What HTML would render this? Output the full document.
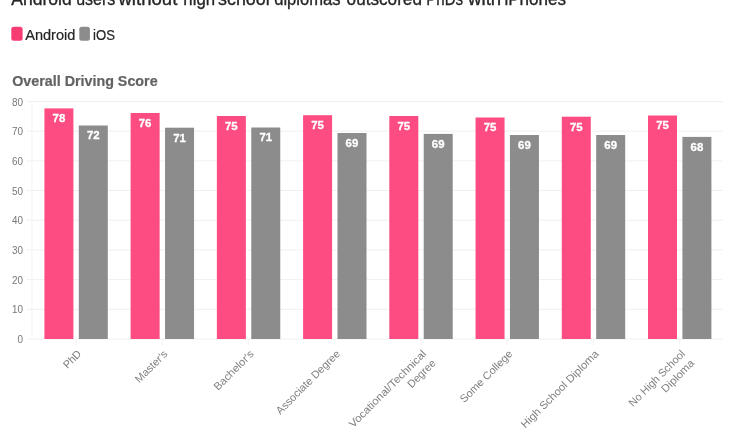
<!DOCTYPE html>
<html lang="en"><head><meta charset="utf-8"><title>Overall Driving Score</title>
<style>html,body{margin:0;padding:0;background:#fff;}body{width:750px;height:430px;overflow:hidden;}svg{display:block;will-change:transform;}text{font-family:"Liberation Sans",sans-serif;}</style></head><body>
<svg width="750" height="430" viewBox="0 0 750 430">
<rect width="750" height="430" fill="#fff"/>
<text x="11.19" y="5.4" font-size="18.4" fill="#262626" stroke="#262626" stroke-width="0.35" textLength="60.57" lengthAdjust="spacingAndGlyphs">Android</text>
<text x="76.15" y="5.4" font-size="18.4" fill="#262626" stroke="#262626" stroke-width="0.35" textLength="39.07" lengthAdjust="spacingAndGlyphs">users</text>
<text x="118.42" y="5.4" font-size="18.4" fill="#262626" stroke="#262626" stroke-width="0.35" textLength="58.91" lengthAdjust="spacingAndGlyphs">without</text>
<text x="183.36" y="5.4" font-size="18.4" fill="#262626" stroke="#262626" stroke-width="0.35" textLength="31.71" lengthAdjust="spacingAndGlyphs">high</text>
<text x="218.06" y="5.4" font-size="18.4" fill="#262626" stroke="#262626" stroke-width="0.35" textLength="51.68" lengthAdjust="spacingAndGlyphs">school</text>
<text x="274.20" y="5.4" font-size="18.4" fill="#262626" stroke="#262626" stroke-width="0.35" textLength="66.32" lengthAdjust="spacingAndGlyphs">diplomas</text>
<text x="346.62" y="5.4" font-size="18.4" fill="#262626" stroke="#262626" stroke-width="0.35" textLength="75.31" lengthAdjust="spacingAndGlyphs">outscored</text>
<text x="426.25" y="5.4" font-size="18.4" fill="#262626" stroke="#262626" stroke-width="0.35" textLength="36.82" lengthAdjust="spacingAndGlyphs">PhDs</text>
<text x="468.13" y="5.4" font-size="18.4" fill="#262626" stroke="#262626" stroke-width="0.35" textLength="33.06" lengthAdjust="spacingAndGlyphs">with</text>
<text x="504.45" y="5.4" font-size="18.4" fill="#262626" stroke="#262626" stroke-width="0.35" textLength="61.62" lengthAdjust="spacingAndGlyphs">iPhones</text>
<rect x="11.3" y="26.8" width="11.3" height="14" rx="2.5" fill="#f73b73"/>
<text x="25.2" y="39.8" font-size="14.2" fill="#262626" stroke="#262626" stroke-width="0.2" textLength="50.2" lengthAdjust="spacingAndGlyphs">Android</text>
<rect x="79.3" y="26.8" width="10.6" height="14" rx="2.5" fill="#8c8c8c"/>
<text x="93.1" y="39.8" font-size="14.2" fill="#262626" stroke="#262626" stroke-width="0.2" textLength="21.9" lengthAdjust="spacingAndGlyphs">iOS</text>
<text x="12.2" y="86.1" font-size="13.8" font-weight="bold" fill="#636363" stroke="#636363" stroke-width="0.2" textLength="145.4" lengthAdjust="spacingAndGlyphs">Overall Driving Score</text>
<line x1="27" x2="722.5" y1="339.00" y2="339.00" stroke="#f0f0f0" stroke-width="1"/>
<text x="17.40" y="343.10" font-size="10.4" fill="#777" textLength="5.5" lengthAdjust="spacingAndGlyphs">0</text>
<line x1="27" x2="722.5" y1="309.31" y2="309.31" stroke="#f0f0f0" stroke-width="1"/>
<text x="11.90" y="313.41" font-size="10.4" fill="#777" textLength="11.0" lengthAdjust="spacingAndGlyphs">10</text>
<line x1="27" x2="722.5" y1="279.62" y2="279.62" stroke="#f0f0f0" stroke-width="1"/>
<text x="11.90" y="283.72" font-size="10.4" fill="#777" textLength="11.0" lengthAdjust="spacingAndGlyphs">20</text>
<line x1="27" x2="722.5" y1="249.93" y2="249.93" stroke="#f0f0f0" stroke-width="1"/>
<text x="11.90" y="254.03" font-size="10.4" fill="#777" textLength="11.0" lengthAdjust="spacingAndGlyphs">30</text>
<line x1="27" x2="722.5" y1="220.24" y2="220.24" stroke="#f0f0f0" stroke-width="1"/>
<text x="11.90" y="224.34" font-size="10.4" fill="#777" textLength="11.0" lengthAdjust="spacingAndGlyphs">40</text>
<line x1="27" x2="722.5" y1="190.55" y2="190.55" stroke="#f0f0f0" stroke-width="1"/>
<text x="11.90" y="194.65" font-size="10.4" fill="#777" textLength="11.0" lengthAdjust="spacingAndGlyphs">50</text>
<line x1="27" x2="722.5" y1="160.86" y2="160.86" stroke="#f0f0f0" stroke-width="1"/>
<text x="11.90" y="164.96" font-size="10.4" fill="#777" textLength="11.0" lengthAdjust="spacingAndGlyphs">60</text>
<line x1="27" x2="722.5" y1="131.17" y2="131.17" stroke="#f0f0f0" stroke-width="1"/>
<text x="11.90" y="135.27" font-size="10.4" fill="#777" textLength="11.0" lengthAdjust="spacingAndGlyphs">70</text>
<line x1="27" x2="722.5" y1="101.48" y2="101.48" stroke="#f0f0f0" stroke-width="1"/>
<text x="11.90" y="105.58" font-size="10.4" fill="#777" textLength="11.0" lengthAdjust="spacingAndGlyphs">80</text>
<line x1="32" x2="32" y1="101" y2="339.0" stroke="#f3f3f3" stroke-width="1"/>
<rect x="44.40" y="108.4" width="29.0" height="230.60" fill="#fd4c81"/>
<rect x="78.80" y="125.5" width="29.0" height="213.50" fill="#8c8c8c"/>
<text x="58.90" y="122.20" font-size="11" font-weight="bold" fill="#fff" stroke="#fff" stroke-width="0.3" text-anchor="middle" textLength="12.7" lengthAdjust="spacingAndGlyphs">78</text>
<text x="93.30" y="139.30" font-size="11" font-weight="bold" fill="#fff" stroke="#fff" stroke-width="0.3" text-anchor="middle" textLength="12.7" lengthAdjust="spacingAndGlyphs">72</text>
<line x1="76.10" x2="76.10" y1="339.0" y2="345.0" stroke="#f3f3f3" stroke-width="1"/>
<text transform="translate(82.00,354.50) rotate(-45)" x="-20.6" y="0.0" font-size="10.8" fill="#808080" textLength="20.6" lengthAdjust="spacingAndGlyphs">PhD</text>
<rect x="130.63" y="113.0" width="29.0" height="226.00" fill="#fd4c81"/>
<rect x="165.03" y="127.7" width="29.0" height="211.30" fill="#8c8c8c"/>
<text x="145.13" y="126.80" font-size="11" font-weight="bold" fill="#fff" stroke="#fff" stroke-width="0.3" text-anchor="middle" textLength="12.7" lengthAdjust="spacingAndGlyphs">76</text>
<text x="179.53" y="141.50" font-size="11" font-weight="bold" fill="#fff" stroke="#fff" stroke-width="0.3" text-anchor="middle" textLength="12.7" lengthAdjust="spacingAndGlyphs">71</text>
<line x1="162.33" x2="162.33" y1="339.0" y2="345.0" stroke="#f3f3f3" stroke-width="1"/>
<text transform="translate(168.23,354.50) rotate(-45)" x="-41.0" y="0.0" font-size="10.8" fill="#808080" textLength="41.0" lengthAdjust="spacingAndGlyphs">Master's</text>
<rect x="216.86" y="116.0" width="29.0" height="223.00" fill="#fd4c81"/>
<rect x="251.26" y="127.5" width="29.0" height="211.50" fill="#8c8c8c"/>
<text x="231.36" y="129.80" font-size="11" font-weight="bold" fill="#fff" stroke="#fff" stroke-width="0.3" text-anchor="middle" textLength="12.7" lengthAdjust="spacingAndGlyphs">75</text>
<text x="265.76" y="141.30" font-size="11" font-weight="bold" fill="#fff" stroke="#fff" stroke-width="0.3" text-anchor="middle" textLength="12.7" lengthAdjust="spacingAndGlyphs">71</text>
<line x1="248.56" x2="248.56" y1="339.0" y2="345.0" stroke="#f3f3f3" stroke-width="1"/>
<text transform="translate(254.46,354.50) rotate(-45)" x="-51.5" y="0.0" font-size="10.8" fill="#808080" textLength="51.5" lengthAdjust="spacingAndGlyphs">Bachelor's</text>
<rect x="303.09" y="115.2" width="29.0" height="223.80" fill="#fd4c81"/>
<rect x="337.49" y="133.0" width="29.0" height="206.00" fill="#8c8c8c"/>
<text x="317.59" y="129.00" font-size="11" font-weight="bold" fill="#fff" stroke="#fff" stroke-width="0.3" text-anchor="middle" textLength="12.7" lengthAdjust="spacingAndGlyphs">75</text>
<text x="351.99" y="146.80" font-size="11" font-weight="bold" fill="#fff" stroke="#fff" stroke-width="0.3" text-anchor="middle" textLength="12.7" lengthAdjust="spacingAndGlyphs">69</text>
<line x1="334.79" x2="334.79" y1="339.0" y2="345.0" stroke="#f3f3f3" stroke-width="1"/>
<text transform="translate(340.69,354.50) rotate(-45)" x="-85.4" y="0.0" font-size="10.8" fill="#808080" textLength="85.4" lengthAdjust="spacingAndGlyphs">Associate Degree</text>
<rect x="389.32" y="116.0" width="29.0" height="223.00" fill="#fd4c81"/>
<rect x="423.72" y="133.89999999999998" width="29.0" height="205.10" fill="#8c8c8c"/>
<text x="403.82" y="129.80" font-size="11" font-weight="bold" fill="#fff" stroke="#fff" stroke-width="0.3" text-anchor="middle" textLength="12.7" lengthAdjust="spacingAndGlyphs">75</text>
<text x="438.22" y="147.70" font-size="11" font-weight="bold" fill="#fff" stroke="#fff" stroke-width="0.3" text-anchor="middle" textLength="12.7" lengthAdjust="spacingAndGlyphs">69</text>
<line x1="421.02" x2="421.02" y1="339.0" y2="345.0" stroke="#f3f3f3" stroke-width="1"/>
<text transform="translate(426.92,354.50) rotate(-45)" x="-104.3" y="0.0" font-size="10.8" fill="#808080" textLength="104.3" lengthAdjust="spacingAndGlyphs">Vocational/Technical</text>
<text transform="translate(426.92,354.50) rotate(-45)" x="-34.8" y="13.3" font-size="10.8" fill="#808080" textLength="34.8" lengthAdjust="spacingAndGlyphs">Degree</text>
<rect x="475.55" y="117.5" width="29.0" height="221.50" fill="#fd4c81"/>
<rect x="509.95" y="135.0" width="29.0" height="204.00" fill="#8c8c8c"/>
<text x="490.05" y="131.30" font-size="11" font-weight="bold" fill="#fff" stroke="#fff" stroke-width="0.3" text-anchor="middle" textLength="12.7" lengthAdjust="spacingAndGlyphs">75</text>
<text x="524.45" y="148.80" font-size="11" font-weight="bold" fill="#fff" stroke="#fff" stroke-width="0.3" text-anchor="middle" textLength="12.7" lengthAdjust="spacingAndGlyphs">69</text>
<line x1="507.25" x2="507.25" y1="339.0" y2="345.0" stroke="#f3f3f3" stroke-width="1"/>
<text transform="translate(513.15,354.50) rotate(-45)" x="-69.1" y="0.0" font-size="10.8" fill="#808080" textLength="69.1" lengthAdjust="spacingAndGlyphs">Some College</text>
<rect x="561.78" y="116.7" width="29.0" height="222.30" fill="#fd4c81"/>
<rect x="596.18" y="135.0" width="29.0" height="204.00" fill="#8c8c8c"/>
<text x="576.28" y="130.50" font-size="11" font-weight="bold" fill="#fff" stroke="#fff" stroke-width="0.3" text-anchor="middle" textLength="12.7" lengthAdjust="spacingAndGlyphs">75</text>
<text x="610.68" y="148.80" font-size="11" font-weight="bold" fill="#fff" stroke="#fff" stroke-width="0.3" text-anchor="middle" textLength="12.7" lengthAdjust="spacingAndGlyphs">69</text>
<line x1="593.48" x2="593.48" y1="339.0" y2="345.0" stroke="#f3f3f3" stroke-width="1"/>
<text transform="translate(599.38,354.50) rotate(-45)" x="-105.0" y="0.0" font-size="10.8" fill="#808080" textLength="105.0" lengthAdjust="spacingAndGlyphs">High School Diploma</text>
<rect x="648.01" y="115.5" width="29.0" height="223.50" fill="#fd4c81"/>
<rect x="682.41" y="136.89999999999998" width="29.0" height="202.10" fill="#8c8c8c"/>
<text x="662.51" y="129.30" font-size="11" font-weight="bold" fill="#fff" stroke="#fff" stroke-width="0.3" text-anchor="middle" textLength="12.7" lengthAdjust="spacingAndGlyphs">75</text>
<text x="696.91" y="150.70" font-size="11" font-weight="bold" fill="#fff" stroke="#fff" stroke-width="0.3" text-anchor="middle" textLength="12.7" lengthAdjust="spacingAndGlyphs">68</text>
<line x1="679.71" x2="679.71" y1="339.0" y2="345.0" stroke="#f3f3f3" stroke-width="1"/>
<text transform="translate(685.61,354.50) rotate(-45)" x="-74.5" y="0.0" font-size="10.8" fill="#808080" textLength="74.5" lengthAdjust="spacingAndGlyphs">No High School</text>
<text transform="translate(685.61,354.50) rotate(-45)" x="-41.6" y="13.3" font-size="10.8" fill="#808080" textLength="41.6" lengthAdjust="spacingAndGlyphs">Diploma</text>
</svg></body></html>
